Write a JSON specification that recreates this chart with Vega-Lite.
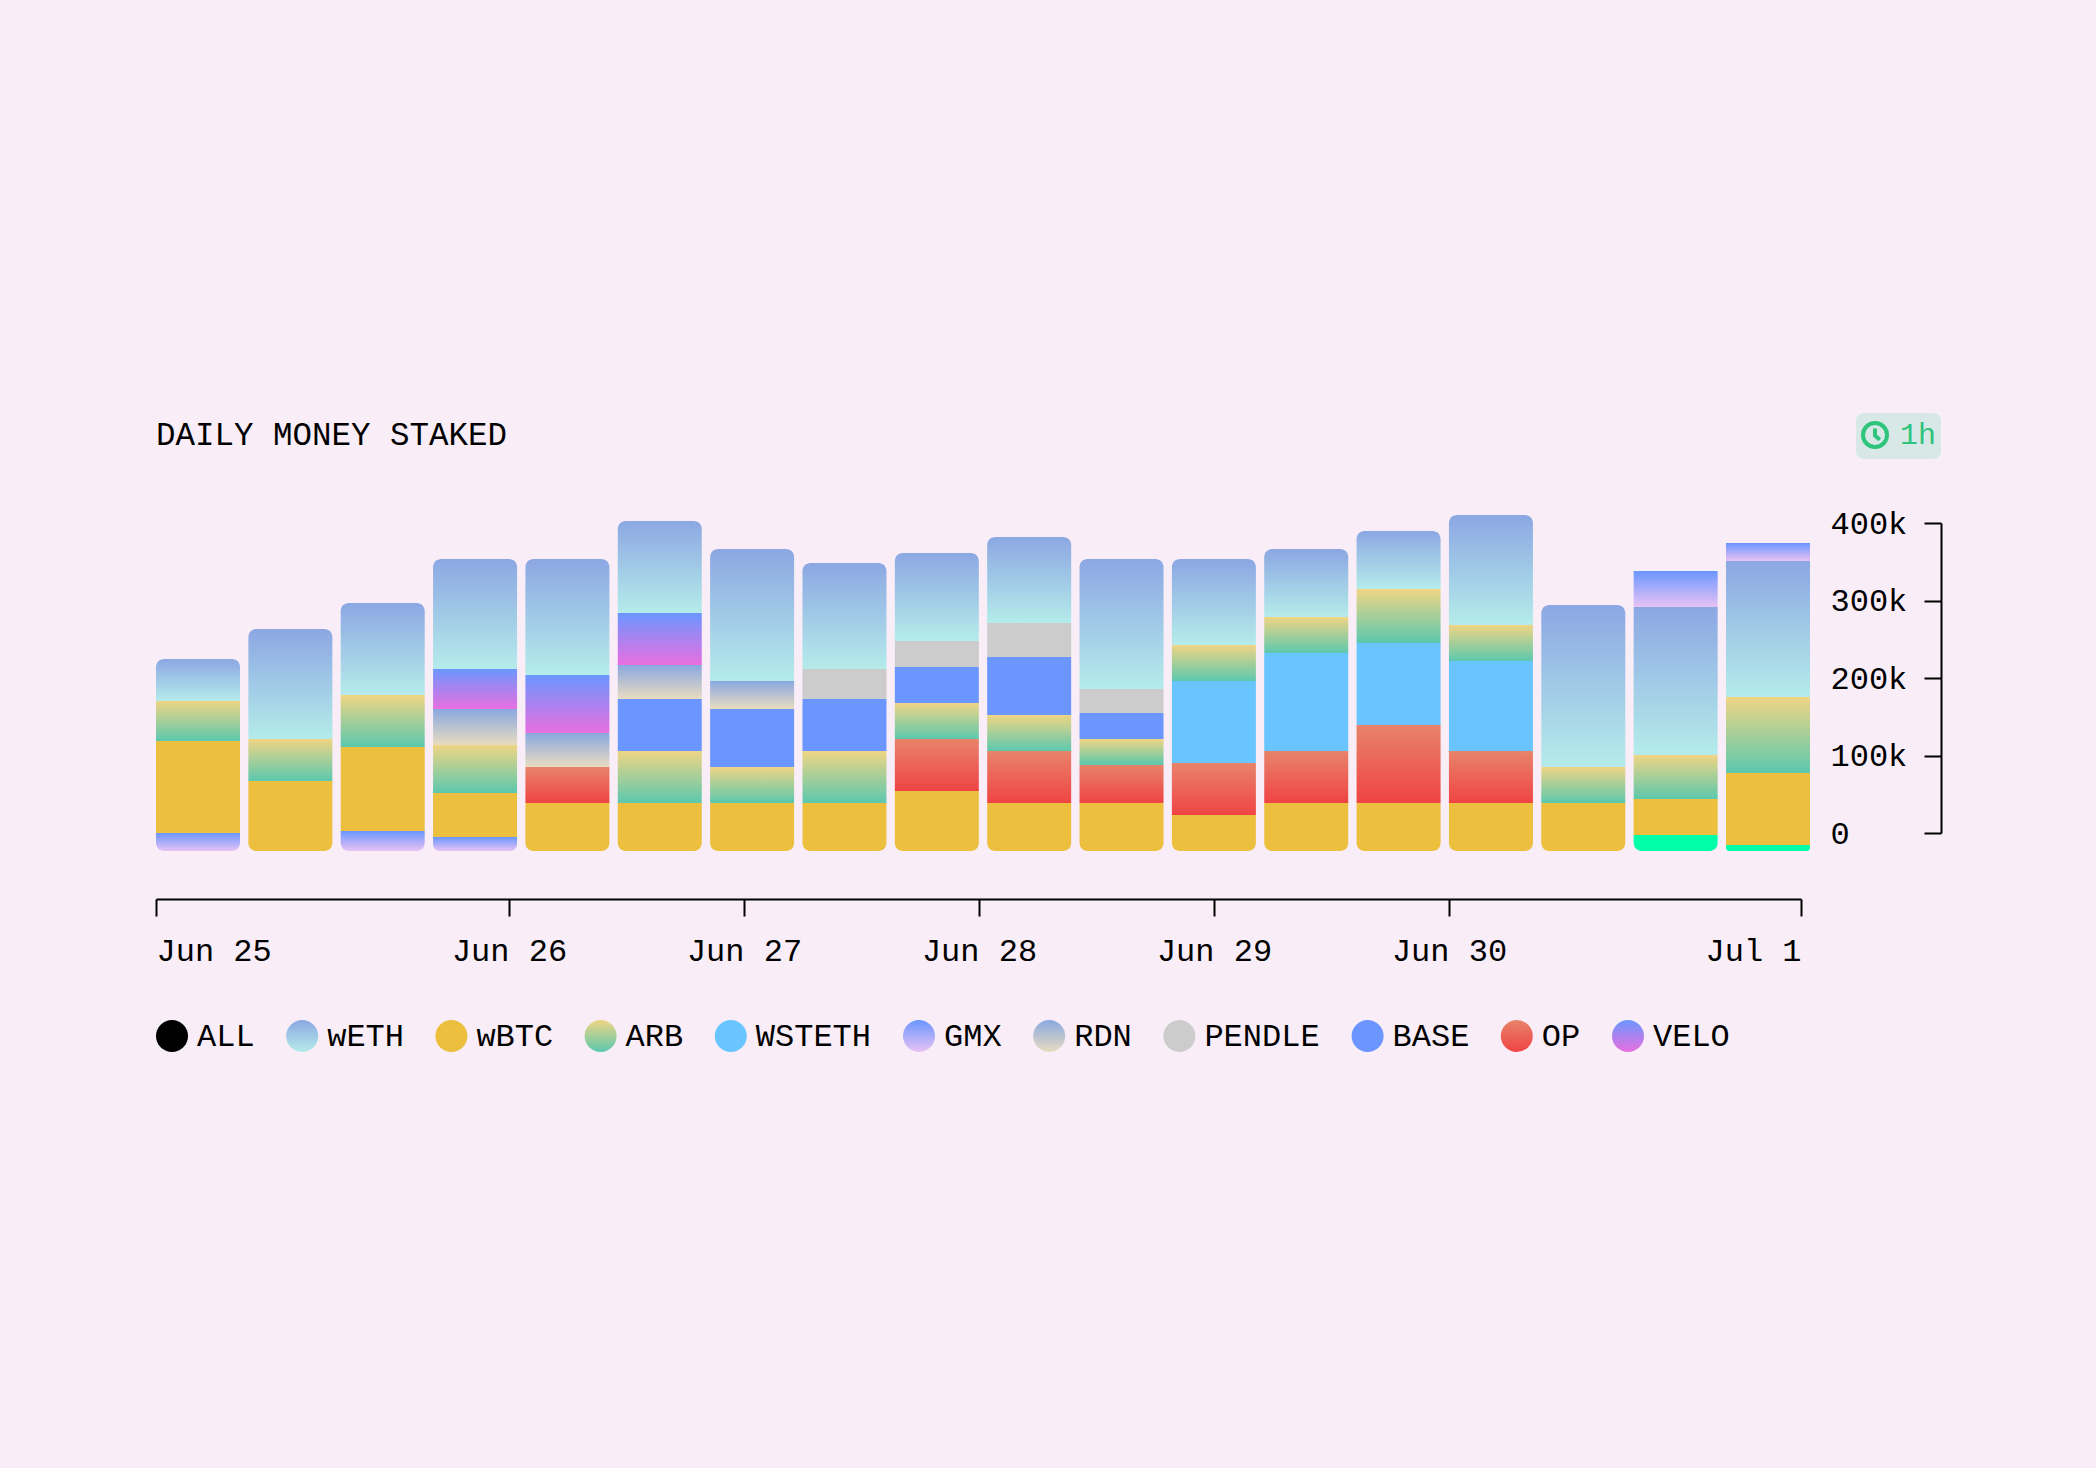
{
  "$schema": "https://vega.github.io/schema/vega-lite/v6.json",
  "description": "Daily money staked per token, stacked bars with gradient segments.",
  "background": "#f9eef8",
  "autosize": {"type": "none"},
  "padding": {"left": 156, "top": 523, "right": 286, "bottom": 635},
  "width": 1654,
  "height": 310,
  "title": {
    "text": "DAILY MONEY STAKED",
    "anchor": "start",
    "frame": "group",
    "offset": 76,
    "dy": 114,
    "font": "Liberation Mono",
    "fontSize": 32.5,
    "fontWeight": "normal",
    "color": "#000000"
  },
  "config": {"view": {"stroke": null}},
  "layer": [
    {
      "data": {
        "values": [
          {"slot": 1, "token": "GMX", "low": -23200, "high": 0},
          {"slot": 1, "token": "wBTC", "low": 0, "high": 118700},
          {"slot": 1, "token": "ARB", "low": 118700, "high": 170300},
          {"slot": 1, "token": "wETH", "low": 170300, "high": 224500},
          {"slot": 2, "token": "wBTC", "low": -23200, "high": 67100},
          {"slot": 2, "token": "ARB", "low": 67100, "high": 121300},
          {"slot": 2, "token": "wETH", "low": 121300, "high": 263200},
          {"slot": 3, "token": "GMX", "low": -23200, "high": 2600},
          {"slot": 3, "token": "wBTC", "low": 2600, "high": 111000},
          {"slot": 3, "token": "ARB", "low": 111000, "high": 178100},
          {"slot": 3, "token": "wETH", "low": 178100, "high": 296800},
          {"slot": 4, "token": "GMX", "low": -23200, "high": -5200},
          {"slot": 4, "token": "wBTC", "low": -5200, "high": 51600},
          {"slot": 4, "token": "ARB", "low": 51600, "high": 113500},
          {"slot": 4, "token": "RDN", "low": 113500, "high": 160000},
          {"slot": 4, "token": "VELO", "low": 160000, "high": 211600},
          {"slot": 4, "token": "wETH", "low": 211600, "high": 353500},
          {"slot": 5, "token": "wBTC", "low": -23200, "high": 38700},
          {"slot": 5, "token": "OP", "low": 38700, "high": 85200},
          {"slot": 5, "token": "RDN", "low": 85200, "high": 129000},
          {"slot": 5, "token": "VELO", "low": 129000, "high": 203900},
          {"slot": 5, "token": "wETH", "low": 203900, "high": 353500},
          {"slot": 6, "token": "wBTC", "low": -23200, "high": 38700},
          {"slot": 6, "token": "ARB", "low": 38700, "high": 105800},
          {"slot": 6, "token": "BASE", "low": 105800, "high": 172900},
          {"slot": 6, "token": "RDN", "low": 172900, "high": 216800},
          {"slot": 6, "token": "VELO", "low": 216800, "high": 283900},
          {"slot": 6, "token": "wETH", "low": 283900, "high": 402600},
          {"slot": 7, "token": "wBTC", "low": -23200, "high": 38700},
          {"slot": 7, "token": "ARB", "low": 38700, "high": 85200},
          {"slot": 7, "token": "BASE", "low": 85200, "high": 160000},
          {"slot": 7, "token": "RDN", "low": 160000, "high": 196100},
          {"slot": 7, "token": "wETH", "low": 196100, "high": 366500},
          {"slot": 8, "token": "wBTC", "low": -23200, "high": 38700},
          {"slot": 8, "token": "ARB", "low": 38700, "high": 105800},
          {"slot": 8, "token": "BASE", "low": 105800, "high": 172900},
          {"slot": 8, "token": "PENDLE", "low": 172900, "high": 211600},
          {"slot": 8, "token": "wETH", "low": 211600, "high": 348400},
          {"slot": 9, "token": "wBTC", "low": -23200, "high": 54200},
          {"slot": 9, "token": "OP", "low": 54200, "high": 121300},
          {"slot": 9, "token": "ARB", "low": 121300, "high": 167700},
          {"slot": 9, "token": "BASE", "low": 167700, "high": 214200},
          {"slot": 9, "token": "PENDLE", "low": 214200, "high": 247700},
          {"slot": 9, "token": "wETH", "low": 247700, "high": 361300},
          {"slot": 10, "token": "wBTC", "low": -23200, "high": 38700},
          {"slot": 10, "token": "OP", "low": 38700, "high": 105800},
          {"slot": 10, "token": "ARB", "low": 105800, "high": 152300},
          {"slot": 10, "token": "BASE", "low": 152300, "high": 227100},
          {"slot": 10, "token": "PENDLE", "low": 227100, "high": 271000},
          {"slot": 10, "token": "wETH", "low": 271000, "high": 381900},
          {"slot": 11, "token": "wBTC", "low": -23200, "high": 38700},
          {"slot": 11, "token": "OP", "low": 38700, "high": 87700},
          {"slot": 11, "token": "ARB", "low": 87700, "high": 121300},
          {"slot": 11, "token": "BASE", "low": 121300, "high": 154800},
          {"slot": 11, "token": "PENDLE", "low": 154800, "high": 185800},
          {"slot": 11, "token": "wETH", "low": 185800, "high": 353500},
          {"slot": 12, "token": "wBTC", "low": -23200, "high": 23200},
          {"slot": 12, "token": "OP", "low": 23200, "high": 90300},
          {"slot": 12, "token": "WSTETH", "low": 90300, "high": 196100},
          {"slot": 12, "token": "ARB", "low": 196100, "high": 242600},
          {"slot": 12, "token": "wETH", "low": 242600, "high": 353500},
          {"slot": 13, "token": "wBTC", "low": -23200, "high": 38700},
          {"slot": 13, "token": "OP", "low": 38700, "high": 105800},
          {"slot": 13, "token": "WSTETH", "low": 105800, "high": 232300},
          {"slot": 13, "token": "ARB", "low": 232300, "high": 278700},
          {"slot": 13, "token": "wETH", "low": 278700, "high": 366500},
          {"slot": 14, "token": "wBTC", "low": -23200, "high": 38700},
          {"slot": 14, "token": "OP", "low": 38700, "high": 139400},
          {"slot": 14, "token": "WSTETH", "low": 139400, "high": 245200},
          {"slot": 14, "token": "ARB", "low": 245200, "high": 314800},
          {"slot": 14, "token": "wETH", "low": 314800, "high": 389700},
          {"slot": 15, "token": "wBTC", "low": -23200, "high": 38700},
          {"slot": 15, "token": "OP", "low": 38700, "high": 105800},
          {"slot": 15, "token": "WSTETH", "low": 105800, "high": 221900},
          {"slot": 15, "token": "ARB", "low": 221900, "high": 268400},
          {"slot": 15, "token": "wETH", "low": 268400, "high": 410300},
          {"slot": 16, "token": "wBTC", "low": -23200, "high": 38700},
          {"slot": 16, "token": "ARB", "low": 38700, "high": 85200},
          {"slot": 16, "token": "wETH", "low": 85200, "high": 294200},
          {"slot": 17, "token": "OTHER", "low": -23200, "high": -2600},
          {"slot": 17, "token": "wBTC", "low": -2600, "high": 43900},
          {"slot": 17, "token": "ARB", "low": 43900, "high": 100600},
          {"slot": 17, "token": "wETH", "low": 100600, "high": 291600},
          {"slot": 17, "token": "GMX", "low": 291600, "high": 338100},
          {"slot": 18, "token": "OTHER", "low": -23200, "high": -15500},
          {"slot": 18, "token": "wBTC", "low": -15500, "high": 77400},
          {"slot": 18, "token": "ARB", "low": 77400, "high": 175500},
          {"slot": 18, "token": "wETH", "low": 175500, "high": 351000},
          {"slot": 18, "token": "GMX", "low": 351000, "high": 374200}
        ]
      },
      "transform": [
        {
          "joinaggregate": [
            {"op": "max", "field": "high", "as": "top"},
            {"op": "min", "field": "low", "as": "bottom"}
          ],
          "groupby": ["slot"]
        }
      ],
      "encoding": {
        "x": {
          "field": "slot",
          "type": "ordinal",
          "axis": null,
          "scale": {"type": "band", "range": [0, 1654], "paddingInner": 0.0904, "paddingOuter": 0}
        },
        "y": {
          "field": "high",
          "type": "quantitative",
          "scale": {"domain": [0, 400000], "range": [310, 0], "nice": false},
          "axis": {
            "orient": "left",
            "offset": -1785,
            "values": [0, 100000, 200000, 300000, 400000],
            "labelExpr": "datum.value === 0 ? '0' : format(datum.value, '~s')",
            "title": null,
            "grid": false,
            "domainColor": "#000000",
            "domainWidth": 2,
            "tickColor": "#000000",
            "tickWidth": 2,
            "tickSize": 17,
            "labelAlign": "left",
            "labelPadding": 94,
            "labelFont": "Liberation Mono",
            "labelFontSize": 32,
            "labelColor": "#000000"
          }
        },
        "y2": {"field": "low"},
        "color": {
          "field": "token",
          "type": "nominal",
          "scale": {
            "domain": ["ALL", "wETH", "wBTC", "ARB", "WSTETH", "GMX", "RDN", "PENDLE", "BASE", "OP", "VELO", "OTHER"],
            "range": [
              "#000000",
              {"expr": "{gradient:'linear',x1:0,y1:0,x2:0,y2:1,stops:[{offset:0,color:'#8ca7e3'},{offset:1,color:'#b5ecea'}]}"},
              "#ecbf3f",
              {"expr": "{gradient:'linear',x1:0,y1:0,x2:0,y2:1,stops:[{offset:0,color:'#efd584'},{offset:1,color:'#5cc8ae'}]}"},
              "#69c5ff",
              {"expr": "{gradient:'linear',x1:0,y1:0,x2:0,y2:1,stops:[{offset:0,color:'#6b96ff'},{offset:1,color:'#e8c2f4'}]}"},
              {"expr": "{gradient:'linear',x1:0,y1:0,x2:0,y2:1,stops:[{offset:0,color:'#8aa8e0'},{offset:1,color:'#e8dcc0'}]}"},
              "#cccccc",
              "#6b96ff",
              {"expr": "{gradient:'linear',x1:0,y1:0,x2:0,y2:1,stops:[{offset:0,color:'#e8836a'},{offset:1,color:'#ef4444'}]}"},
              {"expr": "{gradient:'linear',x1:0,y1:0,x2:0,y2:1,stops:[{offset:0,color:'#6b96ff'},{offset:1,color:'#e96fe0'}]}"},
              "#00ffa8"
            ]
          },
          "legend": {
            "title": null,
            "orient": "none",
            "legendX": 0,
            "legendY": 497,
            "direction": "horizontal",
            "columns": 11,
            "columnPadding": 31.2,
            "gridAlign": "each",
            "padding": 0,
            "values": ["ALL", "wETH", "wBTC", "ARB", "WSTETH", "GMX", "RDN", "PENDLE", "BASE", "OP", "VELO"],
            "symbolType": "circle",
            "symbolSize": 1024,
            "symbolStrokeWidth": 0,
            "labelFont": "Liberation Mono",
            "labelFontSize": 32,
            "labelColor": "#000000",
            "labelOffset": 9,
            "labelLimit": 300
          }
        }
      },
      "layer": [
        {
          "transform": [{"filter": "datum.low != datum.bottom && (datum.high != datum.top || datum.token == 'GMX')"}],
          "mark": {"type": "bar"}
        },
        {
          "transform": [{"filter": "datum.high == datum.top && datum.token != 'GMX'"}],
          "mark": {"type": "bar", "cornerRadiusTopLeft": 8, "cornerRadiusTopRight": 8}
        },
        {
          "transform": [{"filter": "datum.low == datum.bottom"}],
          "mark": {"type": "bar", "cornerRadiusBottomLeft": 8, "cornerRadiusBottomRight": 8}
        }
      ]
    },
    {
      "data": {
        "values": [
          {"juneDay": 25, "interval": "1h"},
          {"juneDay": 26, "interval": "1h"},
          {"juneDay": 27, "interval": "1h"},
          {"juneDay": 28, "interval": "1h"},
          {"juneDay": 29, "interval": "1h"},
          {"juneDay": 30, "interval": "1h"},
          {"juneDay": 31, "interval": "1h"}
        ]
      },
      "mark": {"type": "point", "opacity": 0},
      "encoding": {
        "x": {
          "field": "juneDay",
          "type": "quantitative",
          "scale": {
            "domain": [25, 26, 30, 31],
            "range": [0, 353, 1293, 1645],
            "zero": false,
            "nice": false
          },
          "axis": {
            "orient": "bottom",
            "offset": 66,
            "title": null,
            "grid": false,
            "values": [25, 26, 27, 28, 29, 30, 31],
            "labelExpr": "timeFormat(datetime(2024, 5, datum.value), '%b %-d')",
            "labelFlush": true,
            "labelOverlap": false,
            "domainColor": "#000000",
            "domainWidth": 2,
            "tickColor": "#000000",
            "tickWidth": 2,
            "tickSize": 17,
            "labelPadding": 19,
            "labelFont": "Liberation Mono",
            "labelFontSize": 32,
            "labelColor": "#000000"
          }
        },
        "shape": {
          "field": "interval",
          "type": "nominal",
          "scale": {
            "domain": ["1h"],
            "range": ["M1,0A1,1 0 1,1 -1,0A1,1 0 1,1 1,0M0,-0.55L0,0.05L0.4,0.4"]
          },
          "legend": {
            "title": " ",
            "titleFontSize": 3,
            "titlePadding": 0,
            "orient": "none",
            "legendX": 1700,
            "legendY": -110,
            "fillColor": "#d7e8e6",
            "cornerRadius": 8,
            "padding": 4,
            "symbolSize": 576,
            "symbolOpacity": 1,
            "symbolFillColor": "transparent",
            "symbolStrokeColor": "#2fc47c",
            "symbolStrokeWidth": 4,
            "labelFont": "Liberation Mono",
            "labelFontSize": 30,
            "labelColor": "#2fc47c",
            "labelOffset": 10
          }
        }
      }
    }
  ],
  "resolve": {"scale": {"x": "independent"}, "axis": {"x": "independent"}}
}
